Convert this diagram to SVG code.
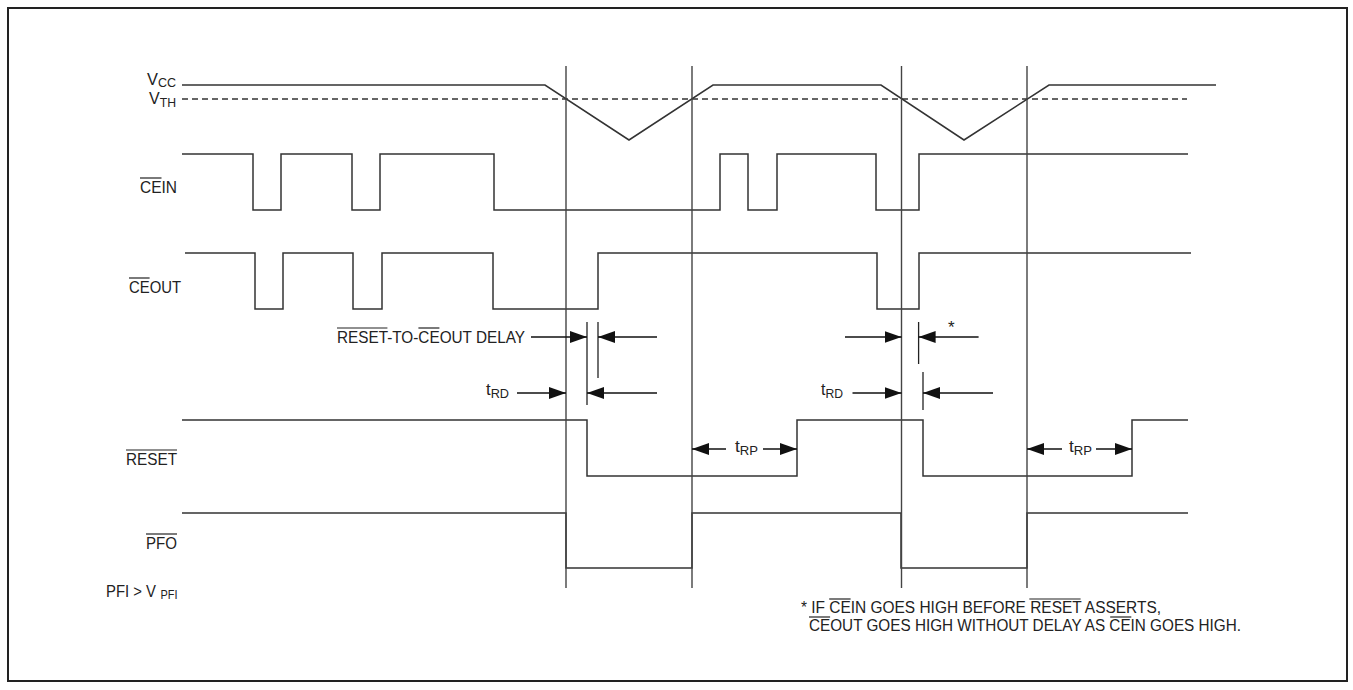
<svg xmlns="http://www.w3.org/2000/svg" width="1353" height="690" viewBox="0 0 1353 690">
<style>
.sig{fill:none;stroke:#333;stroke-width:1.5}
.vl{fill:none;stroke:#444;stroke-width:1.4}
.ar{fill:none;stroke:#111;stroke-width:1.3}
.tk{fill:none;stroke:#222;stroke-width:1.3}
.ov{fill:none;stroke:#222;stroke-width:1.2}
text{font-family:"Liberation Sans",Arial,sans-serif;font-size:17px;fill:#222}
.sub{font-size:13px}
.fn{font-size:16px}
</style>
<defs>
<marker id="ah" markerUnits="userSpaceOnUse" markerWidth="18" markerHeight="12" refX="17" refY="6" orient="auto">
<path d="M0,0 L17,6 L0,12 Z" fill="#111"/>
</marker>
</defs>
<rect x="8" y="8" width="1339" height="673" fill="#fff" stroke="#222" stroke-width="2"/>

<g id="vcc">
<text x="147" y="85" textLength="29" lengthAdjust="spacingAndGlyphs">V<tspan class="sub" dy="2">CC</tspan></text>
<polyline class="sig" points="182,85 545,85 629,140 713,85 881,85 964,140 1049,85 1216,85"/>
</g>
<g id="vth">
<text x="149" y="104" textLength="27" lengthAdjust="spacingAndGlyphs">V<tspan class="sub" dy="3">TH</tspan></text>
<line x1="182" y1="99" x2="1187" y2="99" stroke="#333" stroke-width="1.4" stroke-dasharray="6,4"/>
</g>
<g id="cein">
<text x="140" y="193" textLength="37" lengthAdjust="spacingAndGlyphs">CEIN</text>
<line class="ov" x1="140" y1="178" x2="161.5" y2="178"/>
<path class="sig" d="M182,154 H253 V210 H281 V154 H352 V210 H380 V154 H494 V210 H720 V154 H748 V210 H777 V154 H876 V210 H919 V154 H1188"/>
</g>
<g id="ceout">
<text x="129" y="293" textLength="52" lengthAdjust="spacingAndGlyphs">CEOUT</text>
<line class="ov" x1="129" y1="278" x2="149.6" y2="278"/>
<path class="sig" d="M185,253 H255 V309 H283 V253 H353 V309 H382 V253 H493 V309 H598 V253 H877 V309 H919 V253 H1191"/>
</g>
<g id="reset">
<text x="126" y="465" textLength="51" lengthAdjust="spacingAndGlyphs">RESET</text>
<line class="ov" x1="126" y1="450" x2="177" y2="450"/>
<path class="sig" d="M182,420 H587 V476 H797 V420 H923 V476 H1132 V420 H1188"/>
</g>
<g id="pfo">
<text x="146" y="549" textLength="31" lengthAdjust="spacingAndGlyphs">PFO</text>
<line class="ov" x1="146" y1="534" x2="177" y2="534"/>
<path class="sig" d="M182,513 H566 V568 H692 V513 H901 V568 H1027 V513 H1188"/>
</g>
<g id="pfi">
<text x="106" y="597" textLength="50" lengthAdjust="spacingAndGlyphs">PFI &gt; V</text>
<text class="sub" x="160.5" y="599" textLength="17" lengthAdjust="spacingAndGlyphs">PFI</text>
</g>

<g id="connectors">
<line class="vl" x1="566" y1="66" x2="566" y2="588"/>
<line class="vl" x1="692" y1="66" x2="692" y2="588"/>
<line class="vl" x1="901.5" y1="66" x2="901.5" y2="588"/>
<line class="vl" x1="1027" y1="66" x2="1027" y2="588"/>

<line class="tk" x1="587" y1="322" x2="587" y2="405"/>
<line class="tk" x1="598" y1="322" x2="598" y2="378"/>
<line class="tk" x1="918.6" y1="322" x2="918.6" y2="364"/>
<line class="tk" x1="923" y1="372" x2="923" y2="410"/>

<line class="ar" x1="531" y1="337" x2="587" y2="337" marker-end="url(#ah)"/>
<line class="ar" x1="657" y1="337" x2="598" y2="337" marker-end="url(#ah)"/>
<line class="ar" x1="517" y1="393" x2="566" y2="393" marker-end="url(#ah)"/>
<line class="ar" x1="657" y1="393" x2="587" y2="393" marker-end="url(#ah)"/>

<line class="ar" x1="845" y1="337" x2="901.5" y2="337" marker-end="url(#ah)"/>
<line class="ar" x1="978.6" y1="337" x2="918.6" y2="337" marker-end="url(#ah)"/>
<line class="ar" x1="852.5" y1="393" x2="901.5" y2="393" marker-end="url(#ah)"/>
<line class="ar" x1="993" y1="393" x2="923" y2="393" marker-end="url(#ah)"/>

<line class="ar" x1="726" y1="449" x2="692" y2="449" marker-end="url(#ah)"/>
<line class="ar" x1="763" y1="449" x2="797" y2="449" marker-end="url(#ah)"/>
<line class="ar" x1="1062" y1="449" x2="1027" y2="449" marker-end="url(#ah)"/>
<line class="ar" x1="1096" y1="449" x2="1132" y2="449" marker-end="url(#ah)"/>
</g>

<g id="labels">
<text x="337" y="343" textLength="188" lengthAdjust="spacingAndGlyphs">RESET-TO-CEOUT DELAY</text>
<line class="ov" x1="337" y1="328" x2="387.4" y2="328"/>
<line class="ov" x1="418.4" y1="328" x2="439.4" y2="328"/>
<text x="486" y="395" textLength="23" lengthAdjust="spacingAndGlyphs">t<tspan class="sub" dy="3">RD</tspan></text>
<text x="821" y="395" textLength="22" lengthAdjust="spacingAndGlyphs">t<tspan class="sub" dy="3">RD</tspan></text>
<text x="735" y="452" textLength="23" lengthAdjust="spacingAndGlyphs">t<tspan class="sub" dy="3">RP</tspan></text>
<text x="1069" y="452" textLength="23" lengthAdjust="spacingAndGlyphs">t<tspan class="sub" dy="3">RP</tspan></text>
<text x="948" y="333">*</text>
</g>

<g id="footnote">
<text class="fn" x="801" y="613" textLength="360" lengthAdjust="spacingAndGlyphs">* IF CEIN GOES HIGH BEFORE RESET ASSERTS,</text>
<line class="ov" x1="829.2" y1="599" x2="850.6" y2="599"/>
<line class="ov" x1="1029.3" y1="599" x2="1080.6" y2="599"/>
<text class="fn" x="809" y="631" textLength="432" lengthAdjust="spacingAndGlyphs">CEOUT GOES HIGH WITHOUT DELAY AS CEIN GOES HIGH.</text>
<line class="ov" x1="809" y1="617" x2="830.1" y2="617"/>
<line class="ov" x1="1110.2" y1="617" x2="1131.3" y2="617"/>
</g>
</svg>
